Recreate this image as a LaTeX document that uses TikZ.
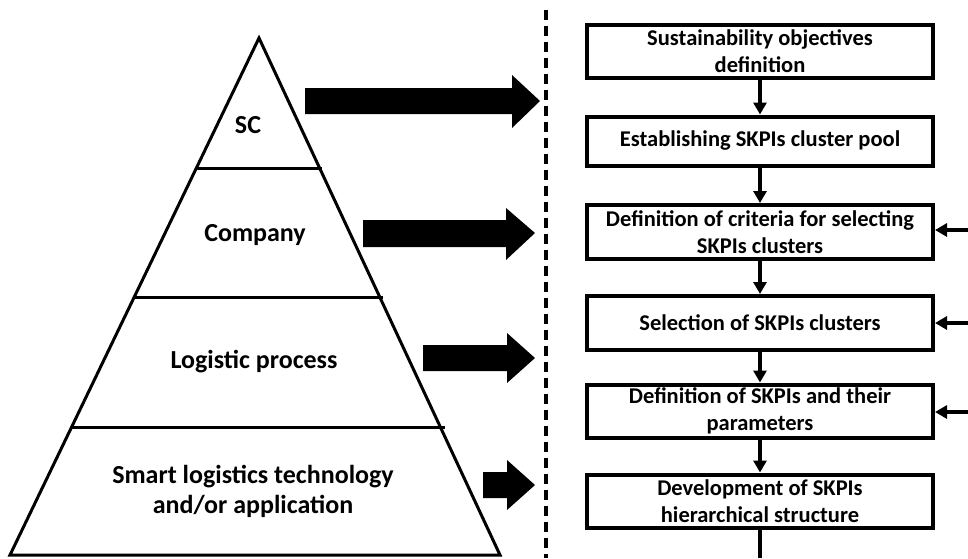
\documentclass[tikz,border=0pt]{standalone}
\usepackage{fontspec}
\setmainfont{Carlito}
\usetikzlibrary{arrows.meta}
\tikzset{
  box/.style={draw, line width=4pt, minimum width=346pt, align=center, font=\bfseries\fontsize{22.5}{27}\selectfont, inner sep=0pt},
  lvl/.style={font=\bfseries\fontsize{26}{30}\selectfont, align=center},
  flow/.style={line width=3.5pt, -{Triangle[length=12pt,width=13pt]}},
  pyr/.style={line width=3pt, line join=miter},
  blk/.style={fill=black},
}
\begin{document}
\begin{tikzpicture}[x=1pt,y=-1pt]
\useasboundingbox (0,0) rectangle (968,558);
% pyramid
\draw[pyr] (259,38) -- (10,555) -- (500,555) -- cycle;
\draw[pyr] (196,168) -- (322,168);
\draw[pyr] (134,297) -- (383,297);
\draw[pyr] (72,427) -- (445,427);
\node[lvl] (sc) at (248,125) {SC};
\node[lvl] (co) at (255,235) {Company};
\node[lvl] (lp) at (254,362) {Logistic process};
\node[lvl] (sl) at (253,491) {Smart logistics technology\\and/or application};
% block arrows
\fill[blk] (305,88) -- (512,88) -- (512,75) -- (540,101) -- (512,128) -- (512,114) -- (305,114) -- cycle;
\fill[blk] (363,220) -- (506,220) -- (506,208) -- (535,233) -- (506,260) -- (506,247) -- (363,247) -- cycle;
\fill[blk] (423,345) -- (507,345) -- (507,333) -- (535,358) -- (507,383) -- (507,371) -- (423,371) -- cycle;
\fill[blk] (483,472) -- (507,472) -- (507,460) -- (535,485) -- (507,510) -- (507,498) -- (483,498) -- cycle;
% dashed separator
\draw[line width=3.5pt, dash pattern=on 10pt off 6pt] (546,10) -- (546,558);
% boxes
\node[box, minimum height=53pt] (b1) at (760,51) {Sustainability objectives\\definition};
\node[box, minimum height=49pt] (b2) at (760,141) {Establishing SKPIs cluster pool};
\node[box, minimum height=54pt] (b3) at (760,232) {Definition of criteria for selecting\\SKPIs clusters};
\node[box, minimum height=54pt] (b4) at (760,323) {Selection of SKPIs clusters};
\node[box, minimum height=53pt] (b5) at (760,411) {Definition of SKPIs and their\\parameters};
\node[box, minimum height=53pt] (b6) at (760,501) {Development of SKPIs\\hierarchical structure};
\draw[flow] (b1) -- (b2);
\draw[flow] (b2) -- (b3);
\draw[flow] (b3) -- (b4);
\draw[flow] (b4) -- (b5);
\draw[flow] (b5) -- (b6);
\coordinate (end) at (760,558);
\draw[line width=3.5pt] (b6) -- (end);
\coordinate (s3) at (968,230);
\coordinate (s4) at (968,323);
\coordinate (s5) at (968,412);
\draw[flow] (s3) -- (s3 -| b3.east);
\draw[flow] (s4) -- (s4 -| b4.east);
\draw[flow] (s5) -- (s5 -| b5.east);
\end{tikzpicture}
\end{document}
